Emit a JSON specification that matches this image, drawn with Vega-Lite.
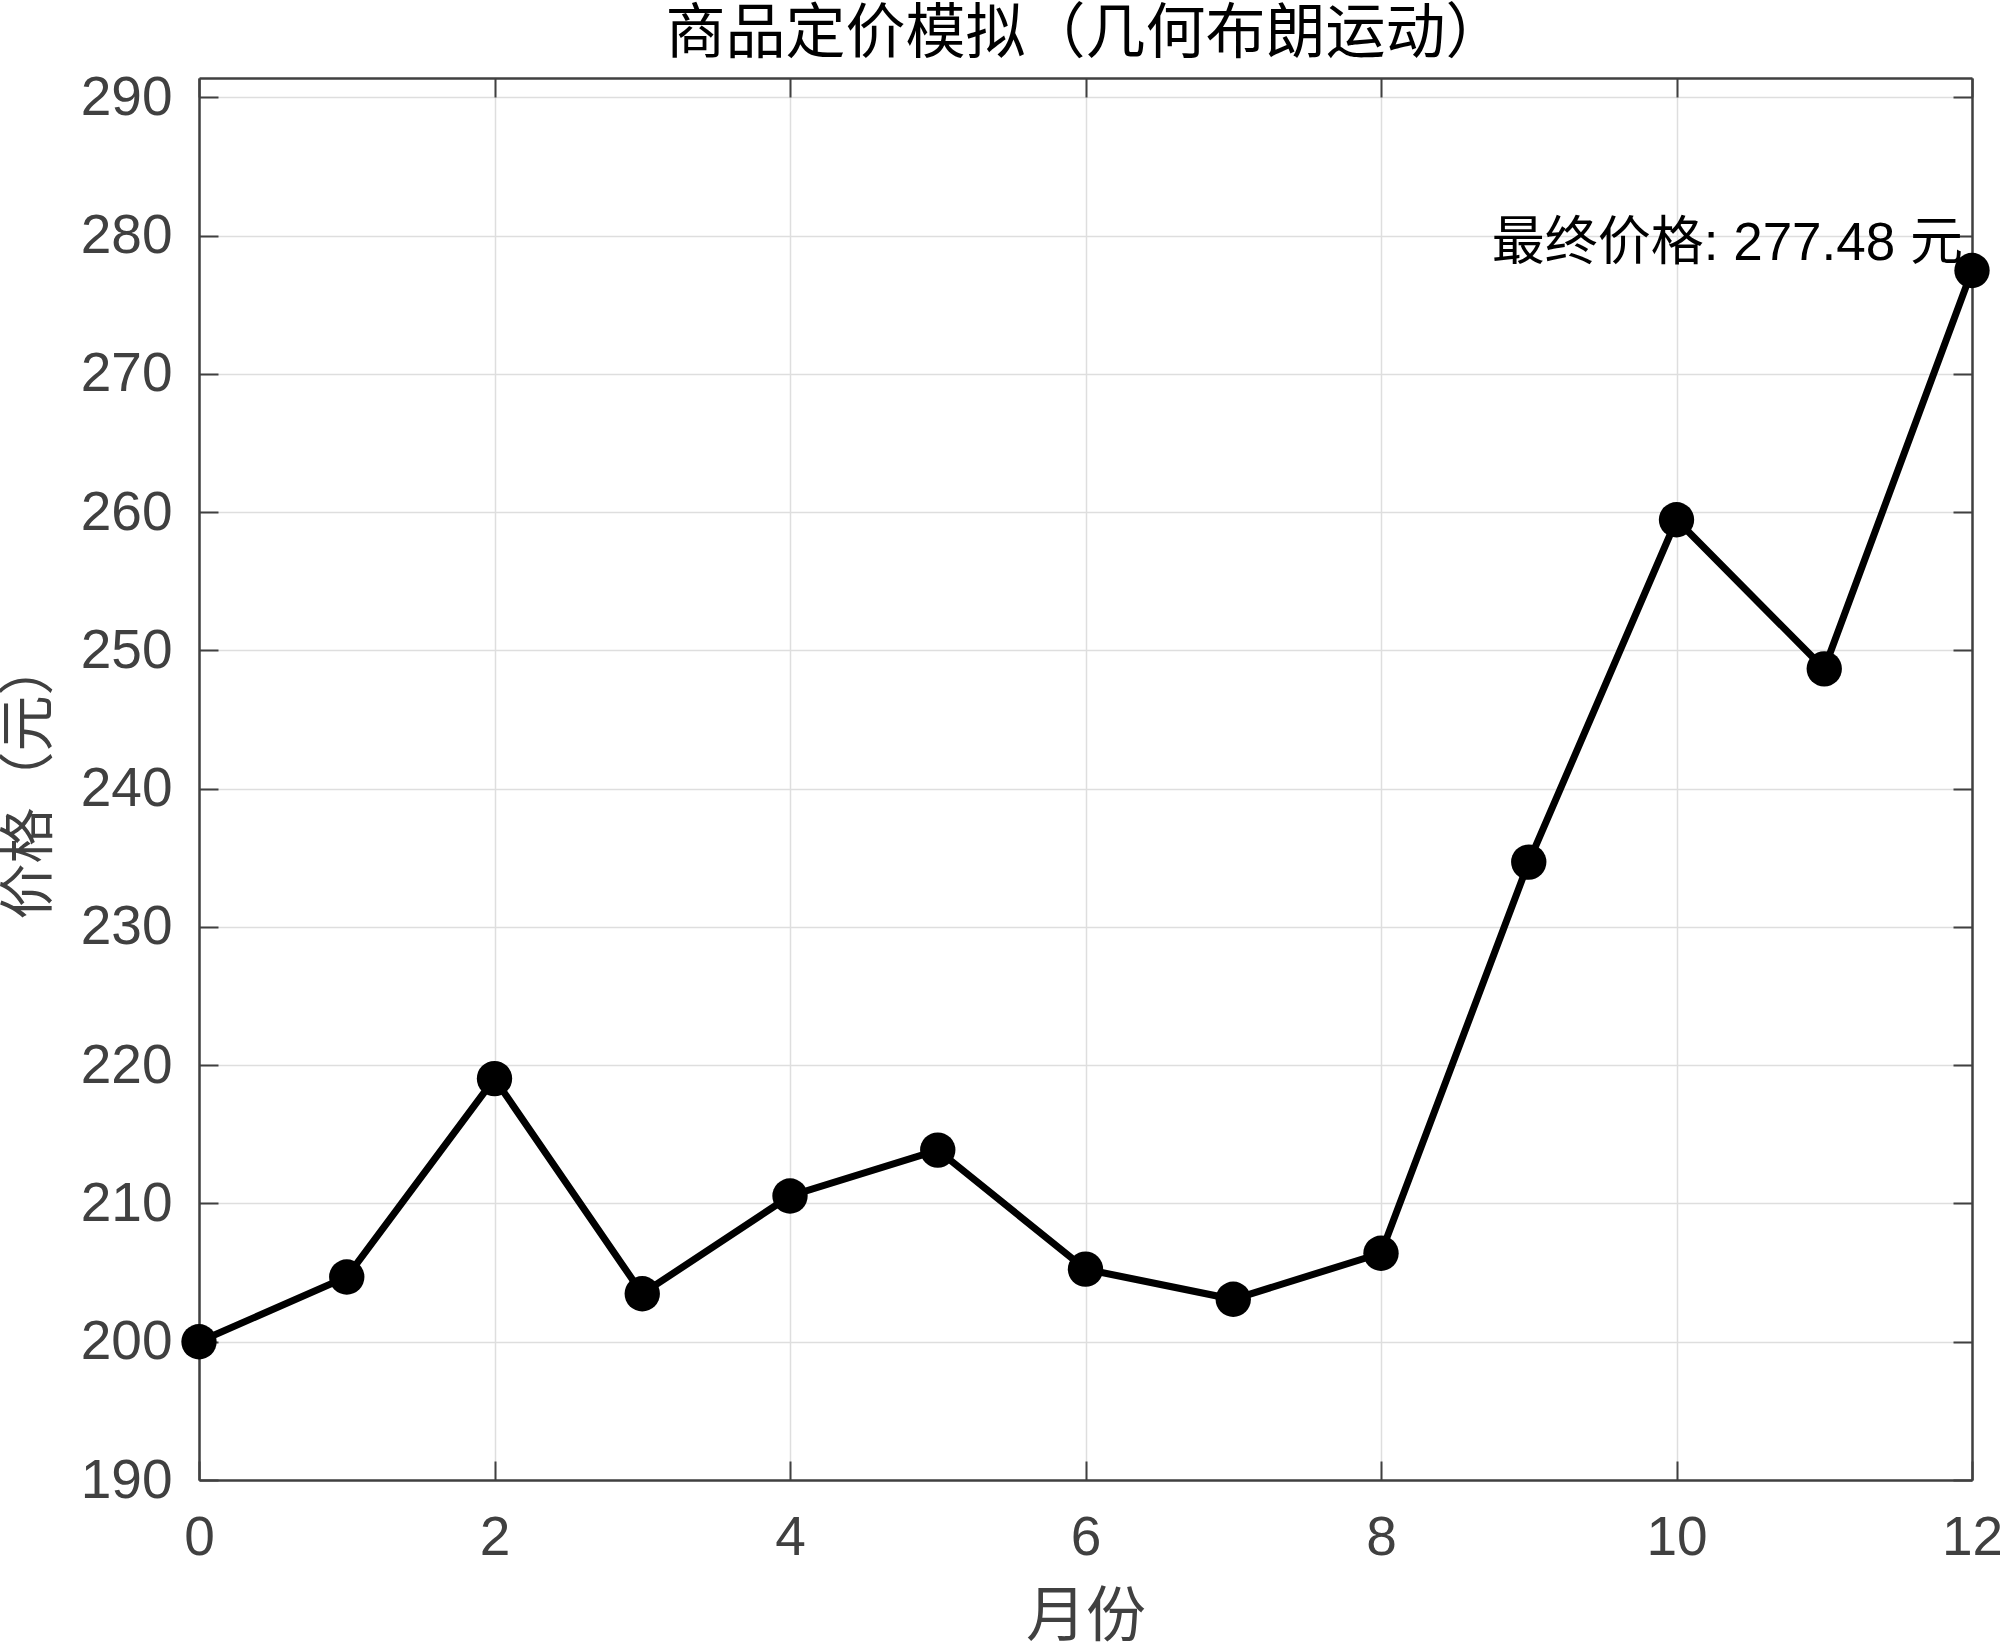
{
  "$schema": "https://vega.github.io/schema/vega-lite/v6.json",
  "autosize": {"type": "none"},
  "width": 1773,
  "height": 1402,
  "padding": {"left": 199, "top": 78, "right": 28, "bottom": 164},
  "background": "white",
  "config": {"view": {"stroke": null}},
  "title": {
    "text": "商品定价模拟（几何布朗运动）",
    "font": "Noto Sans CJK SC",
    "fontSize": 60,
    "fontWeight": "normal",
    "color": "#000000",
    "anchor": "middle",
    "offset": 4
  },
  "data": {
    "values": [
      {"month": 0, "price": 200.0},
      {"month": 1, "price": 204.68},
      {"month": 2, "price": 219.03},
      {"month": 3, "price": 203.47},
      {"month": 4, "price": 210.54},
      {"month": 5, "price": 213.86},
      {"month": 6, "price": 205.25},
      {"month": 7, "price": 203.07},
      {"month": 8, "price": 206.4},
      {"month": 9, "price": 234.69},
      {"month": 10, "price": 259.45},
      {"month": 11, "price": 248.67},
      {"month": 12, "price": 277.48}
    ]
  },
  "layer": [
    {
      "mark": {"type": "line", "color": "#000000", "strokeWidth": 7},
      "encoding": {
        "x": {
          "field": "month", "type": "quantitative",
          "scale": {"domain": [0, 12], "nice": false, "zero": false},
          "axis": {
            "orient": "bottom",
            "values": [0, 2, 4, 6, 8, 10, 12],
            "title": "月份",
            "titleFont": "Noto Sans CJK SC",
            "titleFontSize": 60,
            "titleFontWeight": "normal",
            "titleColor": "#404040",
            "titleBaseline": "top",
            "titleY": 108,
            "labelFont": "Liberation Sans",
            "labelFontSize": 55,
            "labelColor": "#404040",
            "labelPadding": 50,
            "labelFlush": false,
            "labelOverlap": false,
            "tickSize": -19,
            "tickColor": "#404040",
            "tickWidth": 2,
            "domainColor": "#404040",
            "domainWidth": 2.5,
            "grid": true,
            "gridColor": "#dedede",
            "gridWidth": 1.5
          }
        },
        "y": {
          "field": "price", "type": "quantitative",
          "scale": {"domain": [190, 291.4], "nice": false, "zero": false},
          "axis": {
            "orient": "left",
            "values": [190, 200, 210, 220, 230, 240, 250, 260, 270, 280, 290],
            "title": "价格（元）",
            "titleFont": "Noto Sans CJK SC",
            "titleFontSize": 56,
            "titleFontWeight": "normal",
            "titleColor": "#404040",
            "titleBaseline": "middle",
            "titleX": -170,
            "labelFont": "Liberation Sans",
            "labelFontSize": 55,
            "labelColor": "#404040",
            "labelPadding": 46,
            "labelFlush": false,
            "labelOverlap": false,
            "tickSize": -19,
            "tickColor": "#404040",
            "tickWidth": 2,
            "domainColor": "#404040",
            "domainWidth": 2.5,
            "grid": true,
            "gridColor": "#dedede",
            "gridWidth": 1.5
          }
        }
      }
    },
    {
      "mark": {"type": "point", "shape": "circle", "filled": true, "color": "#000000", "opacity": 1, "size": 1250},
      "encoding": {
        "x": {
          "field": "month", "type": "quantitative",
          "axis": {
            "orient": "top",
            "values": [0, 2, 4, 6, 8, 10, 12],
            "title": null,
            "labels": false,
            "grid": false,
            "tickSize": -19,
            "tickColor": "#404040",
            "tickWidth": 2,
            "domainColor": "#404040",
            "domainWidth": 2.5
          }
        },
        "y": {
          "field": "price", "type": "quantitative",
          "axis": {
            "orient": "right",
            "values": [190, 200, 210, 220, 230, 240, 250, 260, 270, 280, 290],
            "title": null,
            "labels": false,
            "grid": false,
            "tickSize": -19,
            "tickColor": "#404040",
            "tickWidth": 2,
            "domainColor": "#404040",
            "domainWidth": 2.5
          }
        }
      }
    },
    {
      "data": {"values": [{"month": 12, "price": 277.48, "label": "最终价格: 277.48 元"}]},
      "mark": {"type": "text", "align": "right", "baseline": "alphabetic", "dx": -9, "dy": -10, "font": "Liberation Sans, Noto Sans CJK SC", "fontSize": 53, "color": "#000000"},
      "encoding": {
        "x": {"field": "month", "type": "quantitative", "axis": null},
        "y": {"field": "price", "type": "quantitative", "axis": null},
        "text": {"field": "label"}
      }
    }
  ],
  "resolve": {"axis": {"x": "independent", "y": "independent"}}
}
